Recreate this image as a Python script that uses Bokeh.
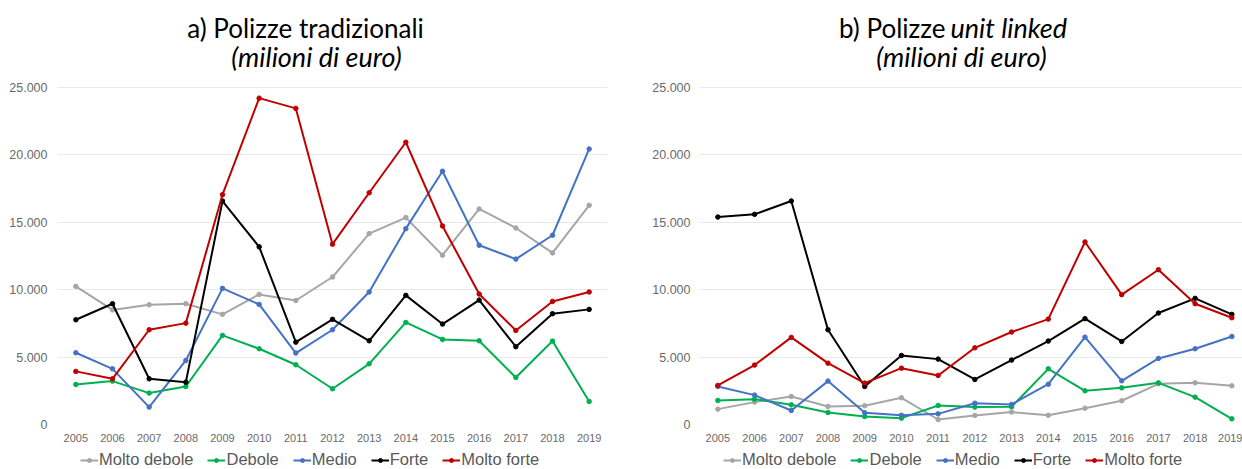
from bokeh.plotting import figure
from bokeh.layouts import row, column
from bokeh.models import Range1d, FixedTicker, Legend, LegendItem, Label
from bokeh.embed import file_html
from bokeh.resources import INLINE

years = [2005, 2006, 2007, 2008, 2009, 2010, 2011, 2012, 2013, 2014, 2015, 2016, 2017, 2018, 2019]
series_names = ["Molto debole", "Debole", "Medio", "Forte", "Molto forte"]
series_colors = ["#a6a6a6", "#00b050", "#4472c4", "#000000", "#c00000"]

# a) Polizze tradizionali (milioni di euro)
molto_debole_a = [10250, 8500, 8880, 8960, 8170, 9650, 9200, 10940, 14160, 15350, 12560, 15990, 14580, 12730, 16260]
debole_a = [2970, 3220, 2330, 2820, 6610, 5620, 4430, 2650, 4500, 7570, 6310, 6210, 3490, 6190, 1710]
medio_a = [5320, 4130, 1290, 4750, 10100, 8910, 5300, 7030, 9830, 14530, 18790, 13300, 12270, 14040, 20440]
forte_a = [7770, 8960, 3390, 3140, 16580, 13180, 6110, 7800, 6210, 9580, 7450, 9230, 5770, 8220, 8540]
molto_forte_a = [3940, 3390, 7030, 7520, 17050, 24210, 23450, 13380, 17190, 20940, 14730, 9680, 6980, 9130, 9830]

# b) Polizze unit linked (milioni di euro)
molto_debole_b = [1140, 1660, 2080, 1340, 1390, 1980, 370, 670, 920, 690, 1210, 1760, 3020, 3090, 2870]
debole_b = [1780, 1880, 1460, 890, 590, 470, 1410, 1290, 1310, 4130, 2500, 2720, 3090, 2030, 420]
medio_b = [2820, 2180, 1040, 3220, 870, 690, 790, 1580, 1490, 2990, 6480, 3240, 4900, 5620, 6530]
forte_b = [15390, 15590, 16580, 7030, 2820, 5120, 4850, 3340, 4780, 6190, 7850, 6160, 8270, 9360, 8170]
molto_forte_b = [2900, 4410, 6460, 4550, 3070, 4180, 3640, 5690, 6860, 7820, 13540, 9630, 11480, 8960, 7920]

y_ticks = [0, 5000, 10000, 15000, 20000, 25000]
y_tick_labels = ["0", "5.000", "10.000", "15.000", "20.000", "25.000"]

TITLE_FONT = "Lato"
TICK_FONT = "Liberation Sans"

CHART_H = 451
LEGEND_H = 18
TOP = 5                 # frame top (canvas px)
ZERO = 424              # zero line (canvas px)
Y_TOP = 25000 * (ZERO - TOP) / 337.0   # headroom above 25.000 holds the titles


def make_chart(width, border_left, border_right, x_end, data, standoff):
    p = figure(width=width, height=CHART_H, output_backend="svg", toolbar_location=None,
               x_range=Range1d(2004.5, x_end), y_range=Range1d(0, Y_TOP),
               min_border_left=border_left, min_border_right=border_right,
               min_border_top=TOP, min_border_bottom=CHART_H - ZERO)
    p.outline_line_color = None
    p.xgrid.grid_line_color = None
    p.ygrid.grid_line_color = "#e9e9e9"
    p.ygrid.grid_line_width = 1
    p.ygrid.ticker = FixedTicker(ticks=y_ticks)

    p.yaxis.ticker = FixedTicker(ticks=y_ticks)
    p.yaxis.major_label_overrides = {t: l for t, l in zip(y_ticks, y_tick_labels)}
    p.xaxis.ticker = FixedTicker(ticks=years)
    p.xaxis.major_label_overrides = {y: str(y) for y in years}
    for ax in (p.xaxis[0], p.yaxis[0]):
        ax.axis_line_color = None
        ax.major_tick_line_color = None
        ax.minor_tick_line_color = None
        ax.major_tick_out = 0
        ax.major_tick_in = 0
        ax.major_label_text_color = "#6a6a6a"
        ax.major_label_text_font = TICK_FONT
    p.yaxis.major_label_text_font_size = "12.5px"
    p.yaxis.major_label_standoff = standoff
    p.xaxis.major_label_text_font_size = "11px"
    p.xaxis.major_label_standoff = 9

    for color, vals in zip(series_colors, data):
        p.line(years, vals, line_color=color, line_width=2)
        p.scatter(years, vals, size=4.5, fill_color=color, line_color=color)
    return p


def make_legend(width, x0, data):
    # a thin strip under each chart; its frame is aligned with the chart frame,
    # the series themselves fall outside its ranges so only the legend shows
    q = figure(width=width, height=LEGEND_H, output_backend="svg", toolbar_location=None,
               x_axis_type=None, y_axis_type=None, min_border=0,
               x_range=Range1d(0, 1), y_range=Range1d(0, 1))
    q.outline_line_color = None
    q.xgrid.visible = False
    q.ygrid.visible = False
    items = []
    for name, color, vals in zip(series_names, series_colors, data):
        lr = q.line(years, vals, line_color=color, line_width=2)
        sr = q.scatter(years, vals, size=4.5, fill_color=color, line_color=color)
        items.append(LegendItem(label=name, renderers=[lr, sr]))
    legend = Legend(items=items, orientation="horizontal", location=(x0, 0),
                    glyph_width=18, glyph_height=10, label_height=LEGEND_H,
                    label_standoff=1, spacing=14, padding=0, margin=0,
                    border_line_color=None, background_fill_alpha=0,
                    label_text_font=TICK_FONT, label_text_font_size="16.5px",
                    label_text_color="#595959")
    q.add_layout(legend, "center")
    return q


data_a = [molto_debole_a, debole_a, medio_a, forte_a, molto_forte_a]
data_b = [molto_debole_b, debole_b, medio_b, forte_b, molto_forte_b]

left = make_chart(620, 57, 13, 2019.5, data_a, 10)
right = make_chart(622, 79, 0, 2019.29, data_b, 9)

# Titles (screen units relative to the plot frame: x from its left, y up from its bottom)
def title_label(p, x, text, align, italic, y, size):
    p.add_layout(Label(x=x, y=y, x_units="screen", y_units="screen",
                       text=text, text_align=align, text_baseline="alphabetic",
                       text_font=TITLE_FONT, text_font_size=size,
                       text_font_style="italic" if italic else "normal",
                       text_color="#000000"))

title_label(left, 248, "a) Polizze tradizionali", "center", False, 397, "26px")
title_label(left, 259, "(milioni di euro)", "center", True, 368, "27px")
title_label(right, 246, "b) Polizze", "right", False, 397, "26px")
title_label(right, 251, "unit linked", "left", True, 397, "27px")
title_label(right, 262, "(milioni di euro)", "center", True, 368, "27px")

layout = row(column(left, make_legend(620, 23, data_a)),
             column(right, make_legend(622, 24, data_b)))
open("out.html", "w").write(file_html(layout, INLINE))
